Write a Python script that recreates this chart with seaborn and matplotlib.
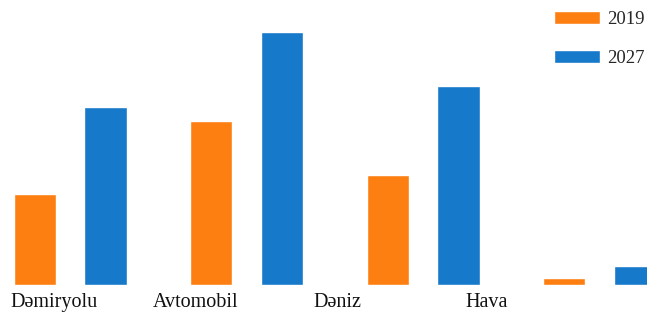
import matplotlib
matplotlib.use("Agg")
import matplotlib.pyplot as plt
import seaborn as sns
import pandas as pd

categories = ["Dəmiryolu", "Avtomobil", "Dəniz", "Hava"]
series_names = ["2019", "2027"]
values_2019 = [91, 164, 110, 7]
values_2027 = [178, 253, 199, 19]
colors = ["#fd7f12", "#1679ca"]

df = pd.DataFrame({
    "cat": categories * 2,
    "year": [series_names[0]] * 4 + [series_names[1]] * 4,
    "val": values_2019 + values_2027,
})

sns.set_theme(style="white")
plt.rcParams["font.family"] = ["Liberation Serif", "DejaVu Serif"]

fig = plt.figure(figsize=(6.47, 3.14), dpi=100)
ax = fig.add_axes([0, 0.0924, 1, 0.9076])
sns.barplot(data=df, x="cat", y="val", hue="year", palette=colors,
            width=0.8, gap=0.4, ax=ax, saturation=1, legend=True)
ax.set_xlim(-0.397, 3.269)
ax.set_ylim(0, 285)
for s in ax.spines.values():
    s.set_visible(False)
ax.set_yticks([])
ax.set_xlabel("")
ax.set_ylabel("")
label_pos = [-0.093, 0.714, 1.513, 2.363]
ax.set_xticks(label_pos, labels=categories)
ax.tick_params(axis="x", length=0, pad=6, labelsize=14.5, colors="#111111")

handles, labels = ax.get_legend_handles_labels()
ax.legend_.remove()
fig.legend(handles, labels, loc="upper left", bbox_to_anchor=(554 / 647, 1 - 11 / 314),
           frameon=False, borderpad=0, fontsize=13.5, handlelength=2.45,
           handleheight=0.7, handletextpad=0.4, labelspacing=1.15,
           borderaxespad=0)

fig.savefig("out.png", dpi=100)
